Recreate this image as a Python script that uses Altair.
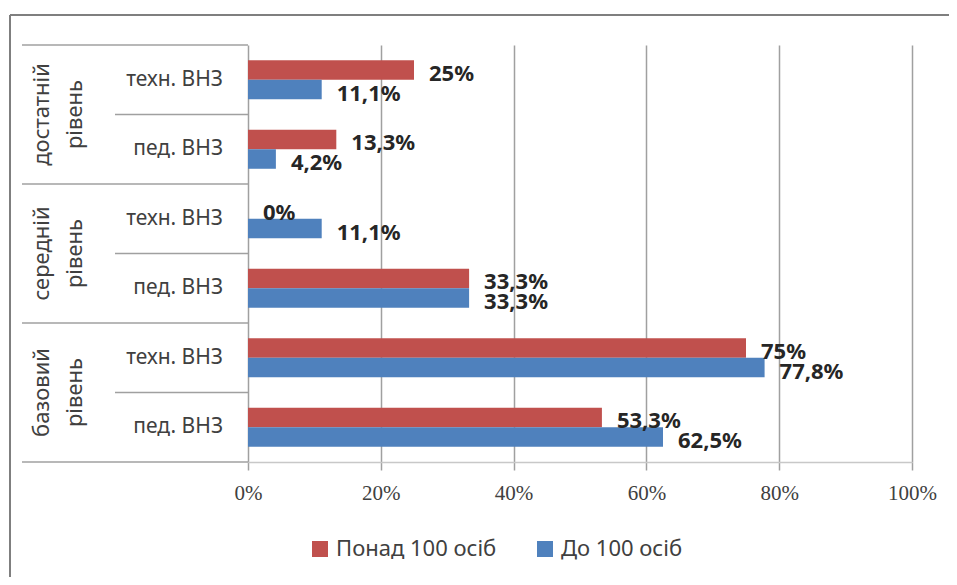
import altair as alt
import pandas as pd

# ---- data ----
groups = ["достатній\nрівень", "середній\nрівень", "базовий\nрівень"]
subs = ["техн. ВНЗ", "пед. ВНЗ"]
series = ["Понад 100 осіб", "До 100 осіб"]
# values in percent, order: (group, sub) top to bottom
over_100 = [25, 13.3, 0, 33.3, 75, 53.3]
upto_100 = [11.1, 4.2, 11.1, 33.3, 77.8, 62.5]
x_ticks = [0, 20, 40, 60, 80, 100]
colors = ["#C0504D", "#4F81BD"]

keys, sub_labels, group_of = [], [], []
for g in groups:
    for s in subs:
        keys.append(g + "|" + s)
        sub_labels.append(s)
        group_of.append(g)

def fmt(v):
    return f"{v:g}".replace(".", ",") + "%"

rows = []
for i, k in enumerate(keys):
    for ser, vals in zip(series, [over_100, upto_100]):
        rows.append({"key": k, "series": ser, "value": vals[i], "label": fmt(vals[i])})
df = pd.DataFrame(rows)

cat_df = pd.DataFrame({"key": keys, "sub": sub_labels})
tech_keys = [g + "|" + subs[0] for g in groups]
grp_df = pd.DataFrame({"key": tech_keys, "group": groups})
bottom_df = pd.DataFrame({"key": [keys[-1]]})

yscale = alt.Scale(domain=keys, paddingInner=0, paddingOuter=0)
xscale = alt.Scale(domain=[0, 100], nice=False)
offscale = alt.Scale(domain=series, paddingInner=0, paddingOuter=0.78)

GRAY = "#A0A0A0"
TXT = "#404040"

bars = alt.Chart(df).mark_bar().encode(
    x=alt.X("value:Q", scale=xscale, title=None,
            axis=alt.Axis(values=x_ticks, labelExpr="datum.value + '%'",
                          grid=True, gridColor=GRAY, gridWidth=1.5,
                          domainColor="#C8C8C8", domainWidth=1.5,
                          tickColor=GRAY, tickSize=8, tickWidth=1.5,
                          labelFlush=False,
                          labelFont="Liberation Serif", labelFontSize=21,
                          labelColor=TXT, labelPadding=12)),
    y=alt.Y("key:N", scale=yscale, axis=None),
    yOffset=alt.YOffset("series:N", scale=offscale),
    color=alt.Color("series:N", scale=alt.Scale(domain=series, range=colors),
                    legend=alt.Legend(title=None, orient="none", legendX=61, legendY=493,
                                      direction="horizontal", symbolType="square",
                                      symbolSize=256, symbolStrokeWidth=0,
                                      labelFont="Noto Sans", labelFontSize=22,
                                      labelLimit=400,
                                      labelColor=TXT, columnPadding=37, labelOffset=5)),
)

values = alt.Chart(df).mark_text(align="left", baseline="middle", dx=15, dy=4,
                                  font="Noto Sans", fontSize=22, fontWeight="bold",
                                  color="#262626").encode(
    x=alt.X("value:Q", scale=xscale),
    y=alt.Y("key:N", scale=yscale),
    yOffset=alt.YOffset("series:N", scale=offscale),
    text="label:N",
)

sub_text = alt.Chart(cat_df).mark_text(align="right", baseline="middle", dx=0,
                                        font="Noto Sans", fontSize=21, color=TXT).encode(
    x=alt.value(-25),
    y=alt.Y("key:N", scale=yscale),
    text="sub:N",
)

grp_text = alt.Chart(grp_df).mark_text(align="center", baseline="middle", angle=270,
                                        lineBreak="\n", lineHeight=33,
                                        font="Noto Sans", fontSize=22, color=TXT).encode(
    x=alt.value(-206),
    y=alt.Y("key:N", scale=yscale, bandPosition=1),
    text="group:N",
)

grp_sep = alt.Chart(grp_df).mark_rule(color=GRAY, strokeWidth=1.5).encode(
    x=alt.value(-226), x2=alt.value(0),
    y=alt.Y("key:N", scale=yscale, bandPosition=0),
)
bottom_sep = alt.Chart(bottom_df).mark_rule(color=GRAY, strokeWidth=1.5).encode(
    x=alt.value(-226), x2=alt.value(0),
    y=alt.Y("key:N", scale=yscale, bandPosition=1),
)
inner_sep = alt.Chart(grp_df).mark_rule(color=GRAY, strokeWidth=1.5).encode(
    x=alt.value(-133), x2=alt.value(0),
    y=alt.Y("key:N", scale=yscale, bandPosition=1),
)

frame_top = alt.Chart(bottom_df).mark_rule(color="#7F7F7F", strokeWidth=2).encode(
    x=alt.value(-238), x2=alt.value(720), y=alt.value(-30))
frame_left = alt.Chart(bottom_df).mark_rule(color="#7F7F7F", strokeWidth=2).encode(
    x=alt.value(-238), y=alt.value(-30), y2=alt.value(560))

chart = alt.layer(
    bars, values, sub_text, grp_text, grp_sep, bottom_sep, inner_sep, frame_top, frame_left
).properties(
    width=664, height=417,
    autosize=alt.AutoSizeParams(type="none"),
    padding={"left": 240, "top": 37, "right": 37, "bottom": 115},
    background="white",
).configure_view(stroke=None)

chart.save("out.html", embed_options={"renderer": "svg", "actions": False})
